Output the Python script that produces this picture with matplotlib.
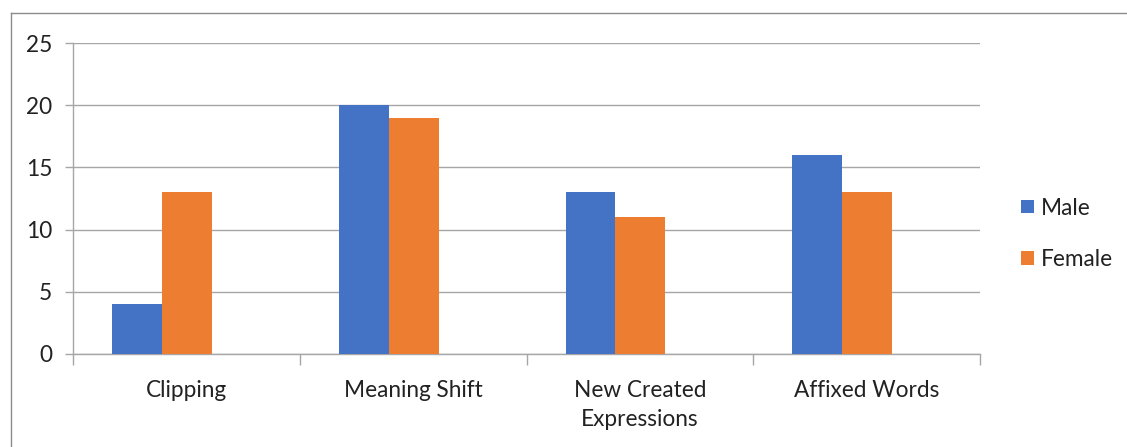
import matplotlib
matplotlib.use("Agg")
import matplotlib.pyplot as plt
from matplotlib.lines import Line2D
import numpy as np

categories = ["Clipping", "Meaning Shift", "New Created\nExpressions", "Affixed Words"]
male = [4, 20, 13, 16]
female = [13, 19, 11, 13]
series_names = ["Male", "Female"]
colors = ["#4472C4", "#ED7D31"]
grid_color = "#A6A6A6"

plt.rcParams["font.family"] = ["Lato", "DejaVu Sans"]
fs = 16.3

fig = plt.figure(figsize=(11.27, 4.47), dpi=100)
ax = fig.add_axes([73 / 1127, 1 - 354 / 447, (980 - 73) / 1127, (354 - 43) / 447])

x = np.arange(len(categories))
width = 0.22
ax.bar(x - 0.218, male, width, color=colors[0], label=series_names[0], zorder=3)
ax.bar(x + 0.002, female, width, color=colors[1], label=series_names[1], zorder=3)

ax.set_xlim(-0.5, len(categories) - 0.5)
ax.set_ylim(0, 25)
ax.set_yticks(range(0, 26, 5))
ax.yaxis.grid(True, color=grid_color, linewidth=1, zorder=0)
ax.set_axisbelow(True)

# category labels centred, boundary ticks between categories
ax.set_xticks(x)
ax.set_xticklabels(categories, fontsize=fs, color="#222222", linespacing=1.45)
ax.tick_params(axis="x", which="major", length=0, pad=19)
ax.set_xticks(np.arange(-0.5, len(categories)), minor=True)
ax.tick_params(axis="x", which="minor", length=8, color=grid_color, width=1)
ax.tick_params(axis="y", length=6, color=grid_color, width=1, labelsize=fs,
               labelcolor="#222222", pad=9)

for side in ["top", "right"]:
    ax.spines[side].set_visible(False)
for side in ["left", "bottom"]:
    ax.spines[side].set_color(grid_color)
    ax.spines[side].set_linewidth(1)

ax.legend(loc="center left", bbox_to_anchor=(1.033, 0.386), frameon=False,
          fontsize=fs, handlelength=0.55, handleheight=0.55, handletextpad=0.3,
          labelspacing=1.35, labelcolor="#222222", borderpad=0)

# outer chart frame
fx, fy = 11 / 1127, 1 - 13 / 447
fig.add_artist(Line2D([fx, fx], [0, fy], transform=fig.transFigure, color="#8C8C8C", lw=1))
fig.add_artist(Line2D([fx, 1], [fy, fy], transform=fig.transFigure, color="#8C8C8C", lw=1))

fig.savefig("out.png", dpi=100)
